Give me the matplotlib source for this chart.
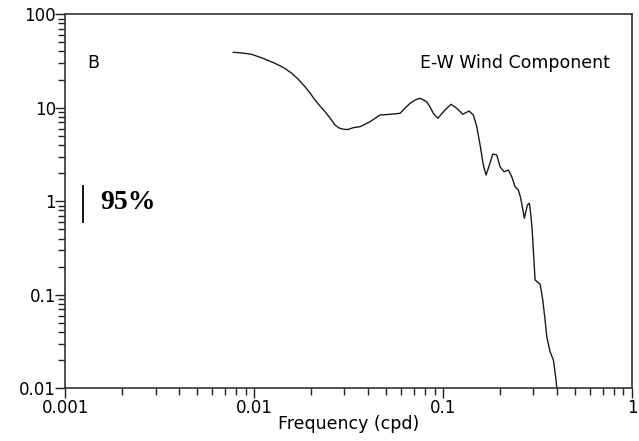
import matplotlib
matplotlib.use("Agg")
import matplotlib.pyplot as plt
from matplotlib.ticker import LogLocator, FixedFormatter, FixedLocator, NullFormatter

# spectrum (frequency in cpd, spectral density)
freq = [0.00774, 0.00861, 0.00969, 0.01099, 0.01287, 0.01437, 0.01578, 0.01704,
        0.01856, 0.01972, 0.02097, 0.02228, 0.02368, 0.02518, 0.02676, 0.0281,
        0.02961, 0.03135, 0.03345, 0.0363, 0.04101, 0.04633, 0.05235, 0.05912,
        0.0628, 0.06679, 0.0710, 0.07543, 0.08185, 0.0852, 0.08872, 0.09363,
        0.1023, 0.1101, 0.1180, 0.1270, 0.1371, 0.1445, 0.1507, 0.1569,
        0.1633, 0.1688, 0.1757, 0.1831, 0.1923, 0.2002, 0.2102, 0.2215,
        0.2309, 0.2404, 0.2502, 0.2576, 0.2692, 0.2793, 0.2862, 0.2905,
        0.2960, 0.3068, 0.3261, 0.3370, 0.3466, 0.3538, 0.3684, 0.3836,
        0.3963, 0.401]
psd = [39.2, 38.6, 37.3, 34.1, 29.9, 26.7, 23.4, 20.3,
       16.8, 14.4, 12.1, 10.45, 9.08, 7.78, 6.55, 6.08,
       5.89, 5.86, 6.13, 6.28, 7.10, 8.37, 8.52, 8.73,
       9.9, 11.17, 12.1, 12.64, 11.62, 10.2, 8.73, 7.72,
       9.47, 10.90, 9.88, 8.52, 9.24, 8.37, 6.28, 4.0,
       2.44, 1.91, 2.44, 3.20, 3.13, 2.34, 2.07, 2.16,
       1.83, 1.43, 1.32, 1.08, 0.658, 0.913, 0.952, 0.75,
       0.50, 0.144, 0.130, 0.088, 0.0538, 0.0356, 0.0246, 0.0201,
       0.01227, 0.0095]

# 95% confidence bar
ci_x = [0.00124, 0.00124]
ci_y = [0.605, 1.46]

xticks = [0.001, 0.01, 0.1, 1]
xlabels = ["0.001", "0.01", "0.1", "1"]
yticks = [0.01, 0.1, 1, 10, 100]
ylabels = ["0.01", "0.1", "1", "10", "100"]

plt.rcParams["font.family"] = ["DejaVu Sans"]

fig = plt.figure(figsize=(6.39, 4.41), dpi=100)
ax = fig.add_axes([0.1025, 0.1195, 0.8865, 0.8481])

ax.plot(freq, psd, color="#1a1a1a", lw=1.0)
ax.plot(ci_x, ci_y, color="black", lw=1.3)

ax.set_xscale("log")
ax.set_yscale("log")
ax.set_xlim(0.001, 1)
ax.set_ylim(0.01, 100)

ax.xaxis.set_major_locator(FixedLocator(xticks))
ax.xaxis.set_major_formatter(FixedFormatter(xlabels))
ax.yaxis.set_major_locator(FixedLocator(yticks))
ax.yaxis.set_major_formatter(FixedFormatter(ylabels))
ax.xaxis.set_minor_locator(LogLocator(base=10, subs=range(2, 10)))
ax.yaxis.set_minor_locator(LogLocator(base=10, subs=range(2, 10)))
ax.xaxis.set_minor_formatter(NullFormatter())
ax.yaxis.set_minor_formatter(NullFormatter())

ax.tick_params(which="both", direction="out", width=1.0, colors="#222222",
               top=False, right=False, labelsize=12)
ax.tick_params(which="major", length=7)
ax.tick_params(which="minor", length=5)
ax.tick_params(axis="y", pad=0)
ax.tick_params(axis="x", pad=1)
for lab in ax.get_xticklabels() + ax.get_yticklabels():
    lab.set_color("black")
for sp in ax.spines.values():
    sp.set_linewidth(1.2)
    sp.set_color("#333333")

ax.set_xlabel("Frequency (cpd)", fontsize=12.5, labelpad=-2)

ax.text(0.038, 0.870, "B", transform=ax.transAxes, fontsize=12.5, va="center")
ax.text(0.961, 0.870, "E-W Wind Component", transform=ax.transAxes,
        fontsize=12.5, va="center", ha="right")
ax.text(0.061, 0.4955, "95%", transform=ax.transAxes, fontsize=20,
        fontweight="bold", family=["Liberation Serif", "DejaVu Serif"],
        va="center")

fig.savefig("out.png", dpi=100)
